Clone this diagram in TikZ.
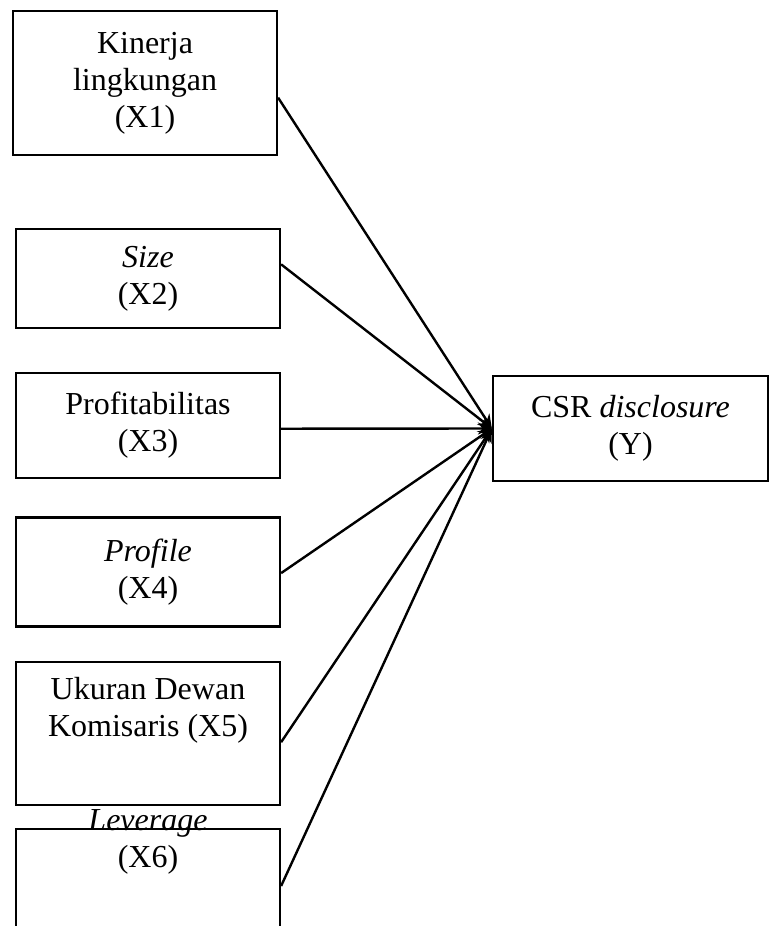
\documentclass[tikz,border=0pt]{standalone}
\usepackage{fontspec}
\setmainfont{Liberation Serif}
\usetikzlibrary{arrows.meta,calc}

\begin{document}
\begin{tikzpicture}[x=0.5pt,y=-0.5pt,
  box/.style={draw,line width=1.1pt,minimum width=132pt,align=center,inner sep=0pt},
  txt/.style={align=center,inner sep=0pt},
  conn/.style={line width=1.2pt,-{Stealth[length=7pt,width=6pt]}},
  every node/.style={font=\fontsize{16}{18.5}\selectfont}]
 \useasboundingbox (0,0) rectangle (770,926);
 \clip (0,0) rectangle (770,926);
 \node[box,minimum height=72pt] (x1) at (145,83) {Kinerja\\lingkungan\\(X1)};
 \node[box,minimum height=49.5pt] (x2) at (148,278.5) {\textit{Size}\\(X2)};
 \node[box,minimum height=52.5pt] (x3) at (148,425.5) {Profitabilitas\\(X3)};
 \node[box,minimum height=54.5pt] (x4) at (148,572) {\textit{Profile}\\(X4)};
 \node[box,minimum height=71.5pt] (x5) at (148,733.5) {};
  \node[txt] (x5t) at (148,710) {Ukuran Dewan\\Komisaris (X5)};
 \node[box,minimum height=57pt] (x6) at (148,886) {};
  \node[txt] (x6t) at (148,842) {\textit{Leverage}\\(X6)};
 \node[box,minimum width=137.5pt,minimum height=52.5pt] (y) at (630.5,428.5) {CSR \textit{disclosure}\\(Y)};

 \draw[conn] ($(x1.north east)!.6!(x1.south east)$) -- (y.west);
 \draw[conn] ($(x2.north east)!.36!(x2.south east)$) -- (y.west);
 \draw[conn] ($(x3.north east)!.53!(x3.south east)$) -- (y.west);
 \draw[conn] ($(x4.north east)!.51!(x4.south east)$) -- (y.west);
 \draw[conn] ($(x5.north east)!.56!(x5.south east)$) -- (y.west);
 \draw[conn] (x6.east) -- (y.west);
\end{tikzpicture}
\end{document}
